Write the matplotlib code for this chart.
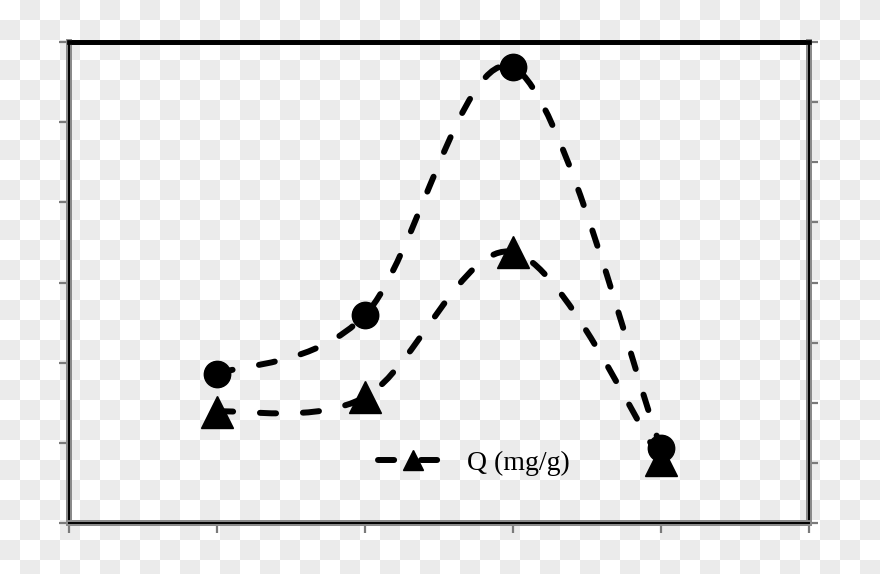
import numpy as np
import matplotlib
matplotlib.use("Agg")
import matplotlib.pyplot as plt
from matplotlib.path import Path
from matplotlib.patches import PathPatch
from matplotlib.lines import Line2D
from matplotlib.colors import ListedColormap
import matplotlib.patheffects as pe

# data
x_pos = [1, 2, 3, 4]
q_vals = [1.39, 1.57, 3.38, 0.79]      # triangles, left axis
c_vals = [2.48, 3.46, 7.58, 1.25]      # circles, right axis
legend_label = "Q (mg/g)"

dash = (0, (2.7, 4.5))
lw = 4.3


def smooth_path(xs, ys):
    # excel-like smoothed line, bezier segments through the points
    p = np.column_stack([xs, ys]).astype(float)
    ext = np.vstack([p[0], p, p[-1]])
    verts = [p[0]]
    codes = [Path.MOVETO]
    for i in range(len(p) - 1):
        p0, p1, p2, p3 = ext[i], ext[i + 1], ext[i + 2], ext[i + 3]
        verts += [p1 + (p2 - p0) / 6, p2 - (p3 - p1) / 6, p2]
        codes += [Path.CURVE4] * 3
    return Path(verts, codes)


fig = plt.figure(figsize=(8.8, 5.74), dpi=100)

# transparent-png checker background
bg = fig.add_axes([0, 0, 1, 1], zorder=-5)
rows, cols = 29, 44
checker = np.indices((rows, cols)).sum(axis=0) % 2
bg.imshow(checker, cmap=ListedColormap(["white", "#ebebeb"]),
          extent=(0, cols * 20, 574 - rows * 20, 574), interpolation="nearest")
bg.set_xlim(0, 880)
bg.set_ylim(0, 574)
bg.axis("off")

ax = fig.add_axes([69 / 880, 51 / 574, 740 / 880, 481 / 574])
ax.set_facecolor("none")
ax.set_xlim(0, 5)
ax.set_ylim(0, 6)
ax.set_xticks(range(6))
ax.set_yticks(range(7))
ax.tick_params(direction="out", length=7, width=1.6, color="#7a7a7a",
               labelbottom=False, labelleft=False)

ax2 = ax.twinx()
ax2.set_ylim(0, 8)
ax2.set_yticks(range(9))
ax2.tick_params(direction="out", length=6.5, width=1.6, color="#7a7a7a",
                labelright=False)

halo = [pe.Stroke(linewidth=4.2, foreground="#8a8a8a"), pe.Normal()]
for a in (ax, ax2):
    for side in ("left", "bottom", "right"):
        a.spines[side].set_color("black")
        a.spines[side].set_linewidth(1.4)
        a.spines[side].set_path_effects(halo)
    a.spines["top"].set_color("black")
    a.spines["top"].set_linewidth(3.4)

# triangle series (left axis)
pp = PathPatch(smooth_path(x_pos, q_vals), fill=False, edgecolor="black",
               linewidth=lw, linestyle=dash, capstyle="round")
ax.add_patch(pp)
ax.plot(x_pos, q_vals, linestyle="none", marker="^", markersize=23,
        color="black", zorder=4)

# circle series (right axis)
pc = PathPatch(smooth_path(x_pos, c_vals), fill=False, edgecolor="black",
               linewidth=lw, linestyle=dash, capstyle="round")
ax2.add_patch(pc)
ax2.plot(x_pos, c_vals, linestyle="none", marker="o", markersize=19,
         color="black", zorder=4)

handle = Line2D([], [], color="black", linewidth=lw, linestyle=dash,
                dash_capstyle="round", marker="^", markersize=15)
ax2.legend([handle], [legend_label], loc="center left",
           bbox_to_anchor=(0.4176, 0.125), frameon=False, borderpad=0,
           borderaxespad=0, handlelength=2.5, handletextpad=0.7,
           prop={"family": "Liberation Serif", "size": 20})

fig.savefig("out.png", dpi=100)
